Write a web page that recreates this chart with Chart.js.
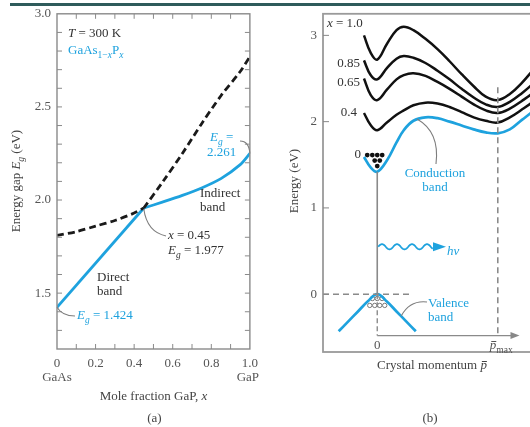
<!DOCTYPE html>
<html>
<head>
<meta charset="utf-8">
<script src="https://cdn.jsdelivr.net/npm/chart.js@4.4.0/dist/chart.umd.min.js"></script>
<style>
  html, body { margin: 0; padding: 0; background: #fff; overflow: hidden; }
  body { width: 530px; height: 427px; position: relative; }
  #topbar { position: absolute; left: 10px; top: 3px; width: 520px; height: 3px; background: #2f5b5b; }
  .wrap { position: absolute; top: 0; height: 427px; }
  #wrapA { left: 0; width: 265px; }
  #wrapB { left: 265px; width: 290px; }
</style>
</head>
<body>
<div class="wrap" id="wrapA"><canvas id="chartA" width="265" height="427"></canvas></div>
<div class="wrap" id="wrapB"><canvas id="chartB" width="290" height="427"></canvas></div>
<div id="topbar"></div>
<script>
// ---------- panel (a): band gap of GaAs(1-x)P(x) ----------
const xDirectLow = [0, 0.45];
const egDirectLow = [1.424, 1.957];
const xIndirectLow = [0, 0.1, 0.2, 0.3, 0.4, 0.45];
const egIndirectLow = [1.81, 1.83, 1.86, 1.89, 1.93, 1.957];
const xHigh = [0.45, 0.55, 0.65, 0.75, 0.85, 0.95, 1.0];
const egDirectHigh = [1.957, 2.10, 2.25, 2.41, 2.56, 2.69, 2.77];
const egIndirectHigh = [1.957, 1.99, 2.025, 2.065, 2.115, 2.19, 2.25];

// ---------- panel (b): E(p) sketch, conduction band for several x ----------
const pGrid = [-0.11, -0.055, 0, 0.08, 0.16, 0.22, 0.3, 0.4, 0.5, 0.6, 0.7, 0.8, 0.9, 1.0, 1.1, 1.2, 1.3, 1.4];
const cond00 = [1.59, 1.47, 1.42, 1.55, 1.76, 1.90, 2.01, 2.05, 2.04, 2.00, 1.955, 1.91, 1.875, 1.865, 1.91, 2.02, 2.13, 2.25];
const cond04 = [2.10, 1.96, 1.90, 1.99, 2.08, 2.13, 2.19, 2.22, 2.21, 2.17, 2.11, 2.05, 2.01, 1.99, 2.05, 2.14, 2.24, 2.36];
const cond065 = [2.50, 2.31, 2.25, 2.37, 2.49, 2.54, 2.56, 2.53, 2.46, 2.38, 2.29, 2.20, 2.13, 2.10, 2.15, 2.24, 2.34, 2.46];
const cond085 = [2.71, 2.54, 2.49, 2.62, 2.73, 2.76, 2.74, 2.68, 2.59, 2.49, 2.38, 2.28, 2.20, 2.17, 2.23, 2.33, 2.45, 2.58];
const cond10 = [3.00, 2.80, 2.72, 2.90, 3.06, 3.10, 3.06, 2.96, 2.84, 2.70, 2.55, 2.41, 2.29, 2.25, 2.32, 2.45, 2.61, 2.77];

const pValence = [-0.32, -0.24, -0.16, -0.08, 0, 0.08, 0.16, 0.24, 0.32];
const eValence = [-0.43, -0.315, -0.20, -0.085, 0, -0.085, -0.20, -0.315, -0.43];

const pElectrons = [-0.083, -0.041, 0, 0.041, -0.021, 0.021, 0];
const eElectrons = [1.612, 1.612, 1.612, 1.612, 1.549, 1.549, 1.485];
const pHoles = [-0.04, 0, 0.04, -0.062, -0.021, 0.021, 0.062];
const eHoles = [-0.05, -0.05, -0.05, -0.13, -0.13, -0.13, -0.13];

const energyTicks = [0, 1, 2, 3];
const pAxisLevel = -0.48;

const SERIF = "'Liberation Serif', 'DejaVu Serif', serif";
const BLUE = '#1ea2de';
const GRAY = '#7d7d7d';
const FS = 13;
Chart.defaults.font.family = SERIF;
Chart.defaults.font.size = FS;
Chart.defaults.color = '#555';

const pts = (xs, ys) => xs.map((x, i) => ({ x: x, y: ys[i] }));

// text with italic / subscript pieces
function rich(ctx, x, y, parts, align, color) {
  const font = p => (p.it ? 'italic ' : '') + (p.sub ? 9.5 : FS) + 'px ' + SERIF;
  let w = 0;
  parts.forEach(p => { ctx.font = font(p); w += ctx.measureText(p.t).width; });
  let cx = align === 'center' ? x - w / 2 : align === 'right' ? x - w : x;
  ctx.fillStyle = color || '#333';
  ctx.textAlign = 'left';
  ctx.textBaseline = 'alphabetic';
  parts.forEach(p => {
    ctx.font = font(p);
    const tw = ctx.measureText(p.t).width;
    ctx.fillText(p.t, cx, y + (p.sub ? 3.8 : 0));
    if (p.bar) ctx.fillRect(cx + 1.5, y - 8, tw - 1.5, 1);
    cx += tw;
  });
}
const T = t => ({ t: t });
const I = t => ({ t: t, it: true });
const S = (t, it) => ({ t: t, sub: true, it: !!it });

function leader(ctx, x0, y0, cx, cy, x1, y1) {
  ctx.beginPath();
  ctx.moveTo(x0, y0);
  ctx.quadraticCurveTo(cx, cy, x1, y1);
  ctx.strokeStyle = GRAY;
  ctx.lineWidth = 1.1;
  ctx.stroke();
}

// ========== PANEL (a) ==========
const decorA = {
  id: 'decorA',
  afterDraw(chart) {
    const { ctx, chartArea: a, scales } = chart;
    ctx.save();
    ctx.strokeStyle = '#8a8a8a';
    ctx.lineWidth = 1.4;
    ctx.strokeRect(a.left, a.top, a.right - a.left, a.bottom - a.top);
    // inward tick marks on all four sides
    ctx.lineWidth = 1;
    ctx.beginPath();
    scales.x.ticks.forEach(t => {
      if (t.value <= 0.001 || t.value >= 0.999) return;
      const px = scales.x.getPixelForValue(t.value);
      ctx.moveTo(px, a.bottom); ctx.lineTo(px, a.bottom - 5);
      ctx.moveTo(px, a.top); ctx.lineTo(px, a.top + 5);
    });
    scales.y.ticks.forEach(t => {
      if (t.value <= 1.201 || t.value >= 2.999) return;
      const py = scales.y.getPixelForValue(t.value);
      ctx.moveTo(a.left, py); ctx.lineTo(a.left + 5, py);
      ctx.moveTo(a.right, py); ctx.lineTo(a.right - 5, py);
    });
    ctx.stroke();

    // annotations
    rich(ctx, 68, 37, [I('T'), T(' = 300 K')], 'left', '#333');
    rich(ctx, 68, 54, [T('GaAs'), S('1\u2212'), S('x', true), T('P'), S('x', true)], 'left', BLUE);
    rich(ctx, 210, 141, [I('E'), S('g', true), T(' =')], 'left', BLUE);
    rich(ctx, 207, 156, [T('2.261')], 'left', BLUE);
    rich(ctx, 200, 197, [T('Indirect')], 'left', '#333');
    rich(ctx, 200, 211, [T('band')], 'left', '#333');
    rich(ctx, 168, 239, [I('x'), T(' = 0.45')], 'left', '#333');
    rich(ctx, 168, 254, [I('E'), S('g', true), T(' = 1.977')], 'left', '#333');
    rich(ctx, 97, 281, [T('Direct')], 'left', '#333');
    rich(ctx, 97, 295, [T('band')], 'left', '#333');
    rich(ctx, 77, 319, [I('E'), S('g', true), T(' = 1.424')], 'left', BLUE);

    const x0 = scales.x.getPixelForValue(0), x1 = scales.x.getPixelForValue(1);
    const yCross = scales.y.getPixelForValue(1.957);
    leader(ctx, 240, 141, 249, 141, x1, scales.y.getPixelForValue(2.25));
    leader(ctx, scales.x.getPixelForValue(0.45), yCross + 1, 147, 232, 166, 236);
    leader(ctx, x0, scales.y.getPixelForValue(1.424), 62, 316, 75, 316);

    rich(ctx, x0, 381, [T('GaAs')], 'center', '#555');
    rich(ctx, x1 - 2, 381, [T('GaP')], 'center', '#555');
    rich(ctx, (x0 + x1) / 2, 400, [T('Mole fraction GaP, '), I('x')], 'center', '#444');
    rich(ctx, (x0 + x1) / 2 + 1, 422, [T('(a)')], 'center', '#444');

    ctx.translate(16, 181);
    ctx.rotate(-Math.PI / 2);
    rich(ctx, 0, 4, [T('Energy gap '), I('E'), S('g', true), T(' (eV)')], 'center', '#444');
    ctx.restore();
  }
};

new Chart(document.getElementById('chartA'), {
  type: 'line',
  data: {
    datasets: [
      { data: pts(xIndirectLow, egIndirectLow), borderColor: '#1a1a1a', borderWidth: 2.8, borderDash: [7, 4], tension: 0.3 },
      { data: pts(xHigh, egDirectHigh), borderColor: '#1a1a1a', borderWidth: 2.8, borderDash: [7, 4], tension: 0.3 },
      { data: pts(xDirectLow, egDirectLow), borderColor: BLUE, borderWidth: 2.8, tension: 0 },
      { data: pts(xHigh, egIndirectHigh), borderColor: BLUE, borderWidth: 2.8, tension: 0.3 }
    ]
  },
  options: {
    responsive: false,
    animation: false,
    layout: { padding: { left: 0, right: 14, top: 11, bottom: 58 } },
    elements: { point: { radius: 0 } },
    plugins: { legend: { display: false }, tooltip: { enabled: false } },
    scales: {
      x: {
        type: 'linear', min: 0, max: 1,
        grid: { display: false, drawTicks: false }, border: { display: false },
        ticks: {
          stepSize: 0.1, padding: 7, autoSkip: false, maxRotation: 0,
          callback: v => { const k = Math.round(v * 10); return k % 2 ? '' : (k === 0 ? '0' : (k / 10).toFixed(1)); }
        },
        afterFit: s => { s.height = 20; }
      },
      y: {
        type: 'linear', min: 1.2, max: 3.0,
        grid: { display: false, drawTicks: false }, border: { display: false },
        ticks: {
          stepSize: 0.1, padding: 6, autoSkip: false,
          callback: v => { const k = Math.round(v * 10); return k % 5 ? '' : (k / 10).toFixed(1); }
        },
        afterFit: s => { s.width = 57; }
      }
    }
  },
  plugins: [decorA]
});

// ========== PANEL (b) ==========
const OX = 265; // page offset of canvas B
const decorB = {
  id: 'decorB',
  afterDraw(chart) {
    const { ctx, chartArea: a, scales } = chart;
    const xs = scales.x, ys = scales.y;
    ctx.save();
    ctx.strokeStyle = '#9a9a9a';
    ctx.lineWidth = 1.8;
    ctx.strokeRect(a.left, a.top, a.right - a.left, a.bottom - a.top);
    ctx.lineWidth = 1;
    ctx.strokeStyle = '#888';
    ctx.beginPath();
    energyTicks.forEach(v => {
      const py = ys.getPixelForValue(v);
      ctx.moveTo(a.left, py); ctx.lineTo(a.left + 6, py);
    });
    ctx.stroke();

    // arrowhead of the inner momentum axis
    const tipX = xs.getPixelForValue(1.18), axY = ys.getPixelForValue(pAxisLevel);
    ctx.fillStyle = '#888';
    ctx.beginPath();
    ctx.moveTo(tipX, axY); ctx.lineTo(tipX - 9, axY - 3.5); ctx.lineTo(tipX - 9, axY + 3.5); ctx.closePath();
    ctx.fill();

    // photon: wavy arrow
    const wy = ys.getPixelForValue(0.55);
    const w0 = xs.getPixelForValue(0) + 1, w1 = 433 - OX;
    ctx.beginPath();
    for (let x = w0; x <= w1; x += 0.5) {
      const y = wy - 2.6 * Math.sin(2 * Math.PI * (x - w0) / 15);
      if (x === w0) ctx.moveTo(x, y); else ctx.lineTo(x, y);
    }
    ctx.strokeStyle = BLUE; ctx.lineWidth = 1.8; ctx.stroke();
    ctx.fillStyle = BLUE;
    ctx.beginPath();
    ctx.moveTo(w1 + 13, wy); ctx.lineTo(w1, wy - 4.5); ctx.lineTo(w1, wy + 4.5); ctx.closePath();
    ctx.fill();

    // labels
    const X = px => px - OX;
    rich(ctx, X(327), 27, [I('x'), T(' = 1.0')], 'left', '#333');
    rich(ctx, X(360), 67, [T('0.85')], 'right', '#333');
    rich(ctx, X(360), 86, [T('0.65')], 'right', '#333');
    rich(ctx, X(357), 116, [T('0.4')], 'right', '#333');
    rich(ctx, X(361), 158, [T('0')], 'right', '#333');
    rich(ctx, X(435), 177, [T('Conduction')], 'center', BLUE);
    rich(ctx, X(435), 191, [T('band')], 'center', BLUE);
    rich(ctx, X(447), 255, [I('h\u03bd')], 'left', BLUE);
    rich(ctx, X(428), 307, [T('Valence')], 'left', BLUE);
    rich(ctx, X(428), 321, [T('band')], 'left', BLUE);
    leader(ctx, X(436), 164, X(440), 132, xs.getPixelForValue(0.33), ys.getPixelForValue(2.03));
    leader(ctx, X(427), 302, X(410), 300, xs.getPixelForValue(0.2), ys.getPixelForValue(-0.25));

    rich(ctx, xs.getPixelForValue(0), 349, [T('0')], 'center', '#555');
    rich(ctx, xs.getPixelForValue(1) - 8, 349, [{ t: 'p', it: true, bar: true }, S('max')], 'left', '#555');
    rich(ctx, X(432), 369, [T('Crystal momentum '), { t: 'p', it: true, bar: true }], 'center', '#444');
    rich(ctx, X(430), 422, [T('(b)')], 'center', '#444');

    ctx.translate(X(294), 181);
    ctx.rotate(-Math.PI / 2);
    rich(ctx, 0, 4, [T('Energy (eV)')], 'center', '#444');
    ctx.restore();
  }
};

const guide = (data, dash, width) => ({ data: data, borderColor: '#8a8a8a', borderWidth: width || 1.4, borderDash: dash || [], tension: 0 });

new Chart(document.getElementById('chartB'), {
  type: 'line',
  data: {
    datasets: [
      guide([{ x: -0.45, y: 0 }, { x: 0.27, y: 0 }], [6, 4], 1.6),
      guide([{ x: 0, y: 0 }, { x: 0, y: pAxisLevel }], [5, 3]),
      guide([{ x: 1, y: 2.40 }, { x: 1, y: pAxisLevel }], [6, 4], 1.6),
      guide([{ x: 0, y: 1.42 }, { x: 0, y: 0 }], [], 1.6),
      guide([{ x: 0, y: pAxisLevel }, { x: 1.12, y: pAxisLevel }], [], 1.4),
      { data: pts(pGrid, cond10), borderColor: '#111', borderWidth: 2.5, tension: 0.4 },
      { data: pts(pGrid, cond085), borderColor: '#111', borderWidth: 2.5, tension: 0.4 },
      { data: pts(pGrid, cond065), borderColor: '#111', borderWidth: 2.5, tension: 0.4 },
      { data: pts(pGrid, cond04), borderColor: '#111', borderWidth: 2.5, tension: 0.4 },
      { data: pts(pGrid, cond00), borderColor: BLUE, borderWidth: 2.7, tension: 0.4 },
      { data: pts(pValence, eValence), borderColor: BLUE, borderWidth: 2.7, tension: 0.4 },
      { type: 'scatter', data: pts(pElectrons, eElectrons), showLine: false, pointRadius: 2.4, pointBackgroundColor: '#111', pointBorderWidth: 0 },
      { type: 'scatter', data: pts(pHoles, eHoles), showLine: false, pointRadius: 2.2, pointBackgroundColor: '#fff', pointBorderColor: '#777', pointBorderWidth: 1 }
    ]
  },
  options: {
    responsive: false,
    animation: false,
    layout: { padding: { left: 0, right: 9, top: 13, bottom: 75 } },
    elements: { point: { radius: 0 } },
    plugins: { legend: { display: false }, tooltip: { enabled: false } },
    scales: {
      x: { type: 'linear', min: -0.45, max: 1.4, display: false },
      y: {
        type: 'linear', min: -0.67, max: 3.25,
        grid: { display: false, drawTicks: false }, border: { display: false },
        ticks: { padding: 6, autoSkip: false },
        afterBuildTicks: s => { s.ticks = energyTicks.map(v => ({ value: v })); },
        afterFit: s => { s.width = 58; }
      }
    }
  },
  plugins: [decorB]
});
</script>
</body>
</html>
